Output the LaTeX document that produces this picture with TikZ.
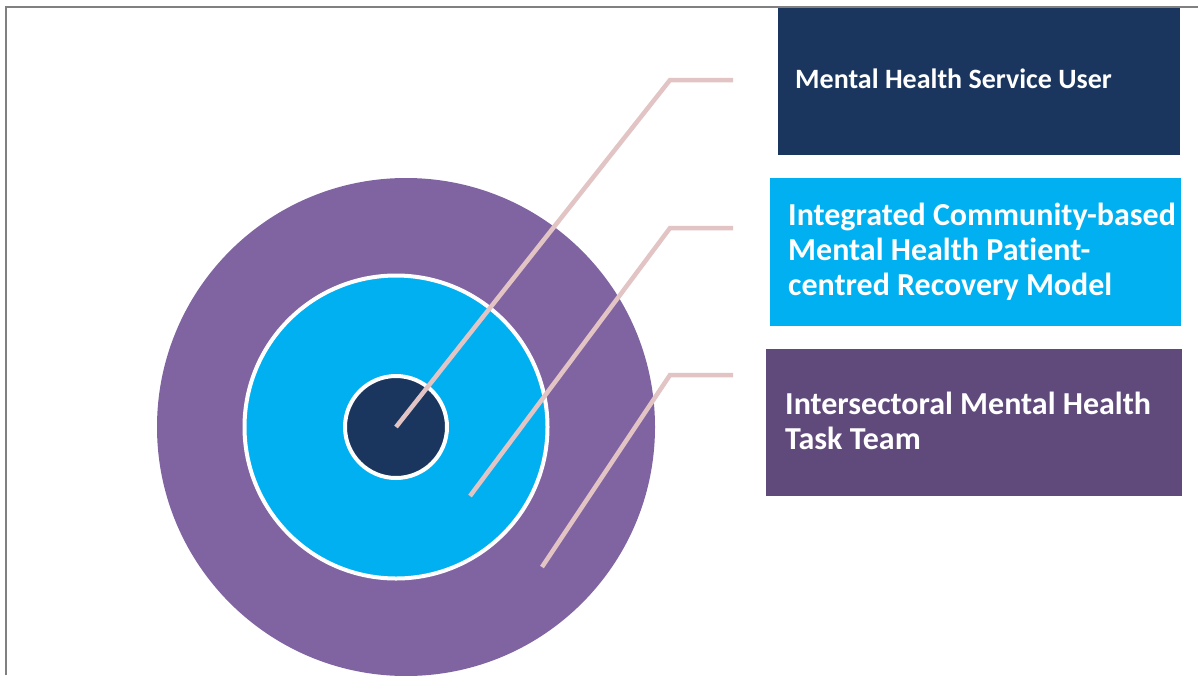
\documentclass[tikz,border=0pt]{standalone}
\usepackage{fontspec}
\setmainfont{Carlito}[Ligatures={NoCommon}]
\definecolor{navy}{HTML}{1A365E}
\definecolor{cyanb}{HTML}{00B0F0}
\definecolor{purp}{HTML}{8064A2}
\definecolor{purpdark}{HTML}{604A7B}
\definecolor{pinkline}{HTML}{E2C4C4}
\definecolor{frame}{HTML}{808080}
\tikzset{
  ring/.style={circle, inner sep=0pt, draw=white, line width=4pt},
  leader/.style={draw=pinkline, line width=4.5pt},
  labelbox/.style={rectangle, inner sep=0pt, anchor=north west},
  labeltext/.style={anchor=base west, align=left, text=white, inner sep=0pt,
    font=\fontsize{32}{35}\selectfont\bfseries}
}
\begin{document}
\begin{tikzpicture}[x=1pt,y=-1pt]
\useasboundingbox (0,0) rectangle (1198,675);
\fill[white] (0,0) rectangle (1198,675);
% frame lines
\draw[frame, line width=1.5pt] (6,675) -- (6,7) -- (1198,7);
% circles
\begin{scope}
\clip (0,0) rectangle (1198,675);
\node[circle, inner sep=0pt, fill=purp, minimum size=498pt] (outer) at (406,427) {};
\end{scope}
\node[ring, fill=cyanb, minimum size=303pt] (middle) at (396,427) {};
\node[ring, fill=navy, minimum size=102pt] (inner) at (396,427) {};
% boxes
\node[labelbox, fill=navy, minimum width=402pt, minimum height=147pt] (b1) at (778,8) {};
\node[labelbox, fill=cyanb, minimum width=411pt, minimum height=148pt] (b2) at (770,178) {};
\node[labelbox, fill=purpdark, minimum width=416pt, minimum height=147pt] (b3) at (766,349) {};
% texts
\node[labeltext, font=\fontsize{28}{32}\selectfont\bfseries] (t1) at (795,88) {Mental Health Service User};
\node[labeltext] (t2) at (788,295) {Integrated Community-based\\Mental Health Patient-\\centred Recovery Model};
\node[labeltext] (t3) at (785,449) {Intersectoral Mental Health\\Task Team};
% leader lines
\coordinate (s1) at (inner.center);
\coordinate (c1) at (670,80);
\coordinate (e1) at (733,80);
\coordinate (s2) at (470,496);
\coordinate (c2) at (670,228);
\coordinate (e2) at (733,228);
\coordinate (s3) at (542,567);
\coordinate (c3) at (670,375);
\coordinate (e3) at (733,375);
\draw[leader] (s1) -- (c1) -- (e1);
\draw[leader] (s2) -- (c2) -- (e2);
\draw[leader] (s3) -- (c3) -- (e3);
\end{tikzpicture}
\end{document}
